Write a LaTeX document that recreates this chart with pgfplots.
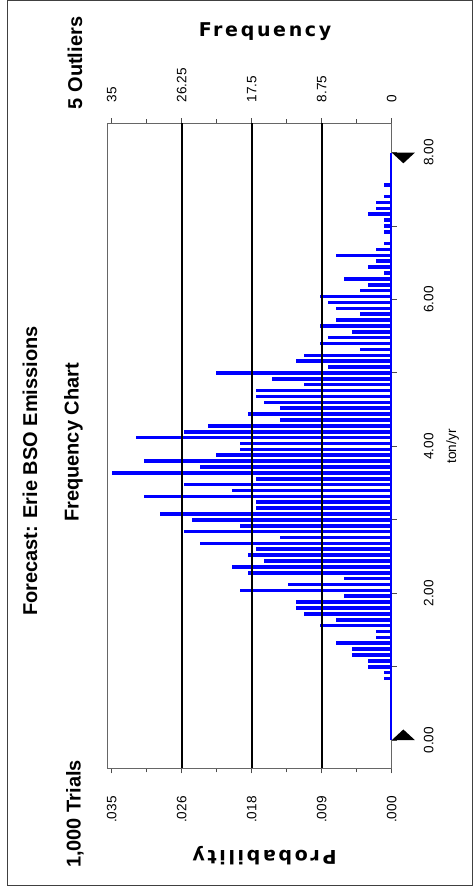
\documentclass[border=0pt]{standalone}
\usepackage{fontspec}
\setmainfont{Liberation Sans}
\newfontfamily\pixfont[LetterSpace=14]{DejaVu Sans}
\usepackage{pgfplots}
\usepackage{pgfplotstable}
\pgfplotsset{compat=1.18}
\newcommand\tickfont{\fontsize{6.8}{8}\selectfont}

\pgfplotstableread{
t f
0.84 1
0.92 1
1.00 3
1.08 3
1.16 5
1.24 5
1.32 7
1.40 2
1.48 2
1.56 9
1.64 7
1.72 11
1.80 12
1.88 12
1.96 6
2.04 19
2.12 13
2.20 6
2.28 18
2.36 20
2.44 16
2.52 18
2.60 17
2.68 24
2.76 14
2.84 26
2.92 19
3.00 25
3.08 29
3.16 17
3.24 17
3.32 31
3.40 20
3.48 26
3.56 17
3.64 35
3.72 24
3.80 31
3.88 22
3.96 19
4.04 19
4.12 32
4.20 26
4.28 23
4.36 14
4.44 18
4.52 14
4.60 16
4.68 17
4.76 17
4.84 11
4.92 15
5.00 22
5.08 8
5.16 12
5.24 11
5.32 4
5.40 9
5.48 8
5.56 5
5.64 9
5.72 7
5.80 4
5.88 7
5.96 8
6.04 9
6.12 4
6.20 3
6.28 6
6.36 1
6.44 3
6.52 2
6.60 7
6.68 2
6.76 1
6.92 1
7.00 1
7.08 1
7.16 3
7.24 2
7.32 2
7.40 1
7.56 1
}\bins

\begin{document}
\begin{tikzpicture}
\begin{axis}[
  scale only axis, width=142.2pt, height=322.5pt,
  x dir=reverse, xmin=0, xmax=35.55, ymin=-0.383, ymax=8.40,
  clip=false,
  xtick={0,8.75,17.5,26.25,35}, xticklabels={.000,.009,.018,.026,.035},
  minor xtick={4.375,13.125,21.875,30.625},
  xtick pos=both, xticklabel pos=lower, tick align=outside,
  ytick={0,1,2,3,4,5,6,7,8}, yticklabels={0.00,,2.00,,4.00,,6.00,,8.00},
  ytick pos=right, yticklabel pos=right,
  major tick length=2.5pt, minor tick length=2pt,
  tick style={black!70, line width=0.5pt},
  axis line style={black!60, line width=0.5pt},
  xticklabel style={rotate=90, anchor=east, font=\tickfont},
  xticklabel shift=8pt,
  yticklabel style={rotate=90, anchor=north, font=\tickfont},
  yticklabel shift=10pt,
]
\addplot[xcomb, blue, line width=1.8pt] table[x=f, y=t]{\bins};
\addplot[blue, line width=0.9pt] coordinates {(0.1,0) (0.1,8)};
\draw[black, line width=0.9pt] (axis cs:8.75,-0.383) -- (axis cs:8.75,8.40);
\draw[black, line width=0.9pt] (axis cs:17.5,-0.383) -- (axis cs:17.5,8.40);
\draw[black, line width=0.9pt] (axis cs:26.25,-0.383) -- (axis cs:26.25,8.40);
\addplot[fill=black, draw=none] coordinates {(0,0) (-2.9,0) (-1.45,0.146)} -- cycle;
\addplot[fill=black, draw=none] coordinates {(0,8) (-2.9,8) (-1.45,7.854)} -- cycle;
\draw[black!75, line width=0.5pt] (axis cs:48.05,10.064) rectangle (axis cs:-10.04,-1.985);
\node[font=\pixfont\bfseries\fontsize{9.5}{11}\selectfont] at (axis cs:15.84,9.649) {Frequency};
\node[font=\pixfont\bfseries\fontsize{9.5}{11}\selectfont, rotate=180] at (axis cs:15.9,-1.570) {Probability};
\node[font=\bfseries\fontsize{10}{12}\selectfont, rotate=90] at (axis cs:39.59,9.22) {5 Outliers};
\node[font=\bfseries\fontsize{10}{12}\selectfont, rotate=90] at (axis cs:39.59,-1.005) {1,000 Trials};
\node[font=\bfseries\fontsize{10}{12}\selectfont, rotate=90] at (axis cs:45.21,3.665) {Forecast: Erie BSO Emissions};
\node[font=\bfseries\fontsize{10}{12}\selectfont, rotate=90] at (axis cs:39.78,4.053) {Frequency Chart};
\node[font=\tickfont, rotate=90] at (axis cs:-7.6,4.0) {ton/yr};
\coordinate (bbTL) at (axis cs:48.9625,10.0776);
\coordinate (bbBR) at (axis cs:-10.1625,-2.0668);
\end{axis}
\begin{axis}[
  scale only axis, width=142.2pt, height=322.5pt,
  x dir=reverse, xmin=0, xmax=35.55, ymin=-0.383, ymax=8.40,
  xtick={0,8.75,17.5,26.25,35}, xticklabels={0,8.75,17.5,26.25,35},
  xtick pos=upper, xticklabel pos=upper, tick align=outside,
  major tick length=2.5pt,
  tick style={draw=none},
  ytick=\empty,
  axis line style={draw=none},
  xticklabel style={rotate=90, anchor=west, font=\tickfont},
  xticklabel shift=4.5pt,
]
\end{axis}
\pgfresetboundingbox
\path[use as bounding box] (bbTL) rectangle (bbBR);
\end{tikzpicture}
\end{document}
